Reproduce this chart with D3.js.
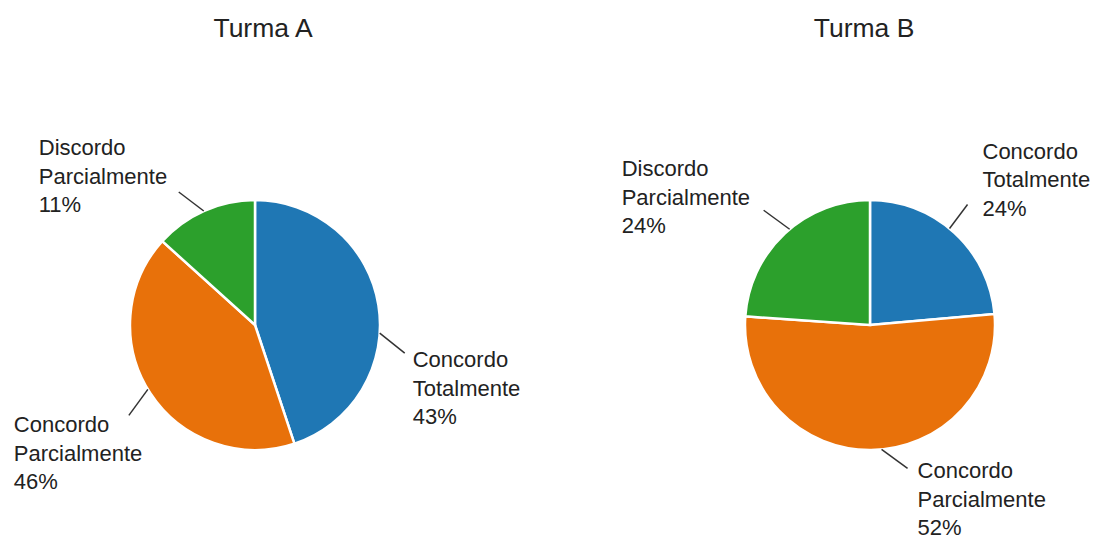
<!DOCTYPE html>
<html>
  <head>
    <meta charset="utf-8">
    <script src="https://d3js.org/d3.v7.min.js"></script>
    <style>
      body { margin: 0; background: #fff; }
      text { font-family: "Liberation Sans", Arial, sans-serif; fill: #222; }
    </style>
  </head>
  <body>
    <div id="chart"></div>
    <script type="text/javascript">
    // categories, shared by both pies
    var categories = ["Concordo Totalmente", "Concordo Parcialmente", "Discordo Parcialmente"];
    var colors = ["#1f77b4", "#e8710a", "#2ca02c"];

    var turmaA = [44.9, 41.8, 13.3];
    var turmaB = [23.6, 52.5, 23.9];
    var pctA = ["43%", "46%", "11%"];
    var pctB = ["24%", "52%", "24%"];

    // leader line placement: angle on the rim (deg), line vector, text offset
    var leadA = [
      {a: 93.7, line: [25, 20], text: [8, 14]},
      {a: 239, line: [-19, 26], text: [-115, 17]},
      {a: 335.8, line: [-25, -19], text: [-140, -37]}
    ];
    var leadB = [
      {a: 39.5, line: [18, -24], text: [15, -46]},
      {a: 174.7, line: [26, 19], text: [10, 10]},
      {a: 320, line: [-26, -19], text: [-142, -34]}
    ];

    var width = 1097, height = 542, radius = 125;

    var svg = d3.select("#chart")
      .append("svg")
      .attr("width", width)
      .attr("height", height);

    function drawPie(title, values, pcts, leads, cx, titleX) {
      var g = svg.append("g").attr("transform", "translate(" + cx + ",325)");

      var pie = d3.pie().sort(null).value(function(d) { return d; });
      var arc = d3.arc().innerRadius(0).outerRadius(radius);

      g.selectAll("path.slice")
        .data(pie(values))
        .enter().append("path")
        .attr("class", "slice")
        .attr("d", arc)
        .attr("fill", function(d, i) { return colors[i]; })
        .attr("stroke", "#fff")
        .attr("stroke-width", 2.5);

      //leader lines and labels
      leads.forEach(function(l, i) {
        var t = l.a * Math.PI / 180;
        var x0 = radius * Math.sin(t), y0 = -radius * Math.cos(t);
        var x1 = x0 + l.line[0], y1 = y0 + l.line[1];
        g.append("line")
          .attr("x1", x0).attr("y1", y0)
          .attr("x2", x1).attr("y2", y1)
          .attr("stroke", "#333")
          .attr("stroke-width", 1.5);
        var lines = categories[i].split(" ").concat([pcts[i]]);
        var txt = g.append("text")
          .attr("x", x1 + l.text[0])
          .attr("y", y1 + l.text[1])
          .style("font-size", "22px");
        lines.forEach(function(s, k) {
          txt.append("tspan")
            .attr("x", x1 + l.text[0])
            .attr("dy", k == 0 ? 0 : 28.5)
            .text(s);
        });
      });

      //title
      svg.append("text")
        .attr("x", titleX)
        .attr("y", 37)
        .style("text-anchor", "middle")
        .style("font-size", "26.5px")
        .text(title);
    }

    drawPie("Turma A", turmaA, pctA, leadA, 255, 263);
    drawPie("Turma B", turmaB, pctB, leadB, 870, 864);
    </script>
  </body>
</html>
